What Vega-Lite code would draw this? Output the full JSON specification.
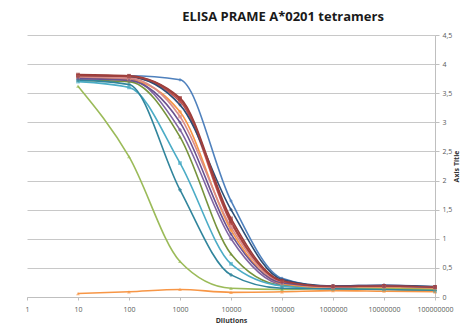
{
  "$schema": "https://vega.github.io/schema/vega-lite/v6.json",
  "width": 408,
  "height": 262,
  "autosize": {"type": "none"},
  "padding": {"left": 27, "top": 35, "right": 41, "bottom": 29},
  "background": "white",
  "title": {
    "text": "ELISA PRAME A*0201 tetramers",
    "font": "Open Sans",
    "fontSize": 13,
    "fontWeight": "bold",
    "color": "#1a1a1a",
    "anchor": "middle",
    "dx": 52,
    "offset": 7
  },
  "config": {
    "view": {"stroke": null},
    "axis": {"labelFont": "Open Sans", "titleFont": "Open Sans", "labelColor": "#595959", "titleColor": "#333333"}
  },
  "data": {
    "values": [
      {"s": "S01", "x": 10, "y": 3.80}, {"s": "S01", "x": 100, "y": 3.80}, {"s": "S01", "x": 1000, "y": 3.73}, {"s": "S01", "x": 10000, "y": 1.65}, {"s": "S01", "x": 100000, "y": 0.32}, {"s": "S01", "x": 1000000, "y": 0.17}, {"s": "S01", "x": 10000000, "y": 0.17}, {"s": "S01", "x": 100000000, "y": 0.15},
      {"s": "S02", "x": 10, "y": 3.80}, {"s": "S02", "x": 100, "y": 3.78}, {"s": "S02", "x": 1000, "y": 3.36}, {"s": "S02", "x": 10000, "y": 1.27}, {"s": "S02", "x": 100000, "y": 0.26}, {"s": "S02", "x": 1000000, "y": 0.18}, {"s": "S02", "x": 10000000, "y": 0.19}, {"s": "S02", "x": 100000000, "y": 0.17},
      {"s": "S03", "x": 10, "y": 3.72}, {"s": "S03", "x": 100, "y": 3.70}, {"s": "S03", "x": 1000, "y": 2.75}, {"s": "S03", "x": 10000, "y": 0.74}, {"s": "S03", "x": 100000, "y": 0.20}, {"s": "S03", "x": 1000000, "y": 0.16}, {"s": "S03", "x": 10000000, "y": 0.16}, {"s": "S03", "x": 100000000, "y": 0.14},
      {"s": "S04", "x": 10, "y": 3.78}, {"s": "S04", "x": 100, "y": 3.75}, {"s": "S04", "x": 1000, "y": 2.87}, {"s": "S04", "x": 10000, "y": 1.00}, {"s": "S04", "x": 100000, "y": 0.22}, {"s": "S04", "x": 1000000, "y": 0.19}, {"s": "S04", "x": 10000000, "y": 0.20}, {"s": "S04", "x": 100000000, "y": 0.17},
      {"s": "S05", "x": 10, "y": 3.70}, {"s": "S05", "x": 100, "y": 3.60}, {"s": "S05", "x": 1000, "y": 2.30}, {"s": "S05", "x": 10000, "y": 0.57}, {"s": "S05", "x": 100000, "y": 0.19}, {"s": "S05", "x": 1000000, "y": 0.14}, {"s": "S05", "x": 10000000, "y": 0.13}, {"s": "S05", "x": 100000000, "y": 0.10},
      {"s": "S06", "x": 10, "y": 3.76}, {"s": "S06", "x": 100, "y": 3.73}, {"s": "S06", "x": 1000, "y": 3.18}, {"s": "S06", "x": 10000, "y": 1.15}, {"s": "S06", "x": 100000, "y": 0.23}, {"s": "S06", "x": 1000000, "y": 0.16}, {"s": "S06", "x": 10000000, "y": 0.16}, {"s": "S06", "x": 100000000, "y": 0.15},
      {"s": "S07", "x": 10, "y": 3.79}, {"s": "S07", "x": 100, "y": 3.78}, {"s": "S07", "x": 1000, "y": 3.30}, {"s": "S07", "x": 10000, "y": 1.50}, {"s": "S07", "x": 100000, "y": 0.30}, {"s": "S07", "x": 1000000, "y": 0.19}, {"s": "S07", "x": 10000000, "y": 0.20}, {"s": "S07", "x": 100000000, "y": 0.18},
      {"s": "S08", "x": 10, "y": 3.82}, {"s": "S08", "x": 100, "y": 3.80}, {"s": "S08", "x": 1000, "y": 3.42}, {"s": "S08", "x": 10000, "y": 1.35}, {"s": "S08", "x": 100000, "y": 0.28}, {"s": "S08", "x": 1000000, "y": 0.18}, {"s": "S08", "x": 10000000, "y": 0.19}, {"s": "S08", "x": 100000000, "y": 0.17},
      {"s": "S09", "x": 10, "y": 3.62}, {"s": "S09", "x": 100, "y": 2.41}, {"s": "S09", "x": 1000, "y": 0.61}, {"s": "S09", "x": 10000, "y": 0.15}, {"s": "S09", "x": 100000, "y": 0.13}, {"s": "S09", "x": 1000000, "y": 0.15}, {"s": "S09", "x": 10000000, "y": 0.14}, {"s": "S09", "x": 100000000, "y": 0.13},
      {"s": "S10", "x": 10, "y": 3.73}, {"s": "S10", "x": 100, "y": 3.65}, {"s": "S10", "x": 1000, "y": 1.84}, {"s": "S10", "x": 10000, "y": 0.38}, {"s": "S10", "x": 100000, "y": 0.15}, {"s": "S10", "x": 1000000, "y": 0.14}, {"s": "S10", "x": 10000000, "y": 0.13}, {"s": "S10", "x": 100000000, "y": 0.11},
      {"s": "S11", "x": 10, "y": 0.06}, {"s": "S11", "x": 100, "y": 0.09}, {"s": "S11", "x": 1000, "y": 0.13}, {"s": "S11", "x": 10000, "y": 0.08}, {"s": "S11", "x": 100000, "y": 0.09}, {"s": "S11", "x": 1000000, "y": 0.11}, {"s": "S11", "x": 10000000, "y": 0.10}, {"s": "S11", "x": 100000000, "y": 0.09},
      {"s": "S12", "x": 10, "y": 3.78}, {"s": "S12", "x": 100, "y": 3.76}, {"s": "S12", "x": 1000, "y": 3.10}, {"s": "S12", "x": 10000, "y": 1.20}, {"s": "S12", "x": 100000, "y": 0.25}, {"s": "S12", "x": 1000000, "y": 0.17}, {"s": "S12", "x": 10000000, "y": 0.18}, {"s": "S12", "x": 100000000, "y": 0.16},
      {"s": "S13", "x": 10, "y": 3.75}, {"s": "S13", "x": 100, "y": 3.72}, {"s": "S13", "x": 1000, "y": 3.00}, {"s": "S13", "x": 10000, "y": 1.08}, {"s": "S13", "x": 100000, "y": 0.24}, {"s": "S13", "x": 1000000, "y": 0.18}, {"s": "S13", "x": 10000000, "y": 0.19}, {"s": "S13", "x": 100000000, "y": 0.17},
      {"s": "S14", "x": 10, "y": 3.80}, {"s": "S14", "x": 100, "y": 3.79}, {"s": "S14", "x": 1000, "y": 3.40}, {"s": "S14", "x": 10000, "y": 1.30}, {"s": "S14", "x": 100000, "y": 0.27}, {"s": "S14", "x": 1000000, "y": 0.18}, {"s": "S14", "x": 10000000, "y": 0.19}, {"s": "S14", "x": 100000000, "y": 0.17}
    ]
  },
  "encoding": {
    "x": {
      "field": "x", "type": "quantitative",
      "scale": {"type": "log", "domain": [1, 100000000], "nice": false},
      "axis": {
        "title": "Dilutions", "titleFontSize": 7, "titleFontWeight": "bold", "titlePadding": 4,
        "values": [1, 10, 100, 1000, 10000, 100000, 1000000, 10000000, 100000000],
        "labelExpr": "format(datum.value, 'd')",
        "labelFontSize": 7, "labelPadding": 5,
        "labelOverlap": false, "labelBound": false, "labelFlush": false,
        "grid": false, "domainColor": "#bfbfbf", "tickColor": "#bfbfbf", "tickSize": 3
      }
    },
    "y": {
      "field": "y", "type": "quantitative",
      "scale": {"domain": [0, 4.5], "nice": false},
      "axis": {
        "orient": "right", "title": "Axis Title", "titleFontSize": 7, "titleFontWeight": "bold", "titleAngle": 270, "titlePadding": 8,
        "values": [0, 0.5, 1, 1.5, 2, 2.5, 3, 3.5, 4, 4.5],
        "labelExpr": "replace(format(datum.value, '~g'), '.', ',')",
        "labelFontSize": 7, "labelPadding": 3,
        "labelOverlap": false, "labelBound": false, "labelFlush": false,
        "grid": true, "gridColor": "#c8c8c8", "gridWidth": 1,
        "domainColor": "#bfbfbf", "tickColor": "#bfbfbf", "tickSize": 4
      }
    },
    "detail": {"field": "s"},
    "color": {
      "field": "s", "type": "nominal", "legend": null,
      "scale": {
        "domain": ["S01", "S02", "S03", "S04", "S05", "S06", "S07", "S08", "S09", "S10", "S11", "S12", "S13", "S14"],
        "range": ["#4F81BD", "#C0504D", "#77933C", "#8064A2", "#4BACC6", "#F79646", "#2C4D75", "#9B3B38", "#9BBB59", "#31859C", "#F79646", "#D98C8A", "#6A5290", "#A0403D"]
      }
    }
  },
  "layer": [
    {"mark": {"type": "line", "interpolate": "monotone", "strokeWidth": 1.6}},
    {
      "mark": {"type": "point", "filled": true, "size": 14},
      "encoding": {
        "shape": {
          "field": "s", "type": "nominal", "legend": null,
          "scale": {
            "domain": ["S01", "S02", "S03", "S04", "S05", "S06", "S07", "S08", "S09", "S10", "S11", "S12", "S13", "S14"],
            "range": ["diamond", "square", "triangle-up", "cross", "square", "circle", "diamond", "square", "triangle-up", "cross", "triangle-up", "square", "diamond", "square"]
          }
        }
      }
    }
  ]
}
